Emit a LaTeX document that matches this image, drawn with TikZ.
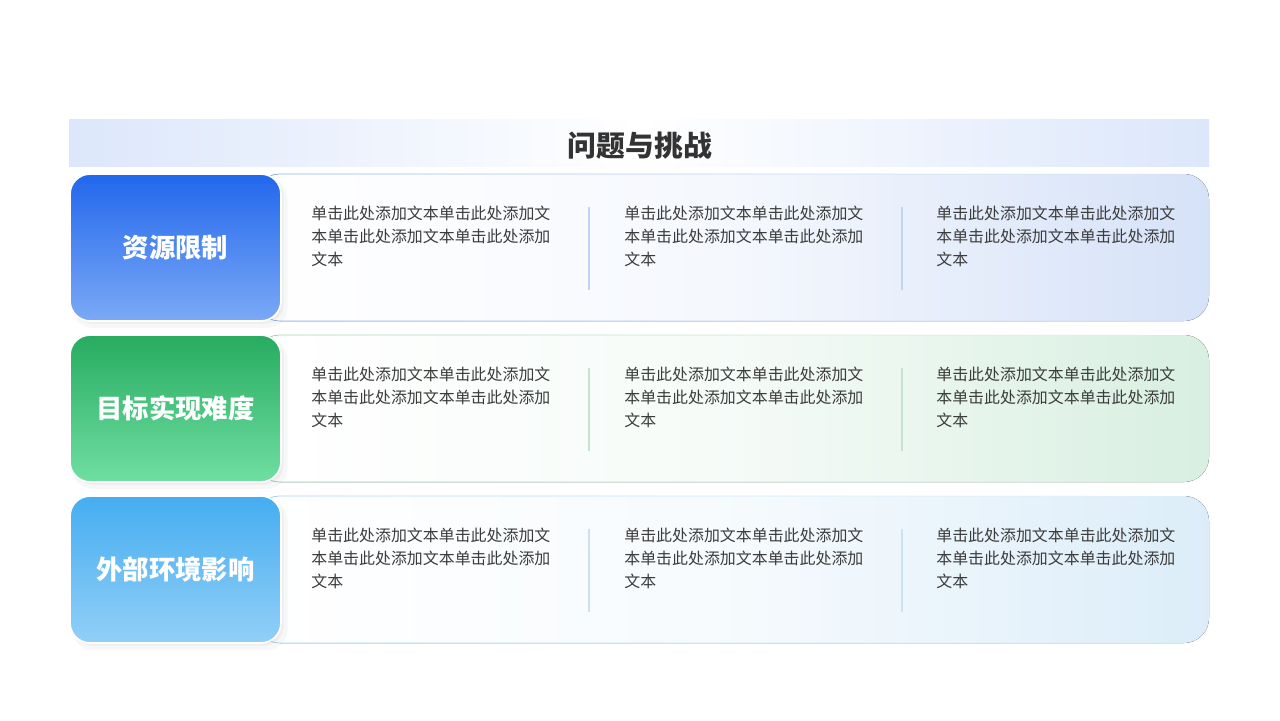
\documentclass[tikz,border=0pt]{standalone}
\usepackage{fontspec}
\setmainfont{Noto Sans CJK SC}
\usetikzlibrary{shadows,fadings}

\definecolor{bannerblue}{HTML}{DCE7FB}
\definecolor{titlegray}{HTML}{333333}
\definecolor{textgray}{HTML}{3C3C3C}
\definecolor{topA}{HTML}{2267EC}
\definecolor{botA}{HTML}{7BA9F6}
\definecolor{tintA}{HTML}{D6E2F8}
\definecolor{edgeA}{HTML}{8FB0F0}
\definecolor{divA}{HTML}{C3D4F2}
\definecolor{topB}{HTML}{27AC60}
\definecolor{botB}{HTML}{70DEA2}
\definecolor{tintB}{HTML}{D8EFE1}
\definecolor{edgeB}{HTML}{9BD6B4}
\definecolor{divB}{HTML}{C5E3D1}
\definecolor{topC}{HTML}{45ADF0}
\definecolor{botC}{HTML}{92CFF7}
\definecolor{tintC}{HTML}{DCEDF9}
\definecolor{edgeC}{HTML}{AAD3F2}
\definecolor{divC}{HTML}{CCE2F2}

\newcommand{\bodytext}{单击此处添加文本单击此处添加文\\本单击此处添加文本单击此处添加\\文本}

\begin{document}
\begin{tikzpicture}[x=0.02cm, y=-0.02cm]
  \tikzstyle{card}=[rounded corners=0.4cm, draw=white, line width=1pt,
                    minimum width=4.22cm, minimum height=2.94cm, text=white,
                    font=\fontsize{15}{18}\selectfont\bfseries,
                    drop shadow={opacity=0.06, shadow xshift=2.5pt, shadow yshift=-3pt, shadow scale=1.02},
                    drop shadow={opacity=0.08, shadow xshift=1.5pt, shadow yshift=-1.5pt}]
  \tikzstyle{body}=[anchor=north west, inner sep=0pt, align=left, text=textgray,
                    font=\fontsize{9.07}{13.04}\selectfont]
  \tikzstyle{panel}=[rounded corners=0.5cm]
  \tikzstyle{divider}=[line width=0.6pt]

  \useasboundingbox[fill=white] (0,0) rectangle (1280,720);

  % banner
  \fill[left color=bannerblue, right color=bannerblue, middle color=white]
        (69,119) rectangle (1209,166);
  \node (title) at (640,146) [font=\fontsize{16.4}{20}\selectfont\bfseries,
                              text=titlegray] {问题与挑战};

  % panels
  \fill[panel, left color=white, right color=tintA, middle color=tintA!25] (255,174) rectangle (1209,321);
  \draw[panel, draw=edgeA, path fading=east] (255,174) rectangle (1209,321);
  \fill[panel, left color=white, right color=tintB, middle color=tintB!25] (255,335) rectangle (1209,482);
  \draw[panel, draw=edgeB, path fading=east] (255,335) rectangle (1209,482);
  \fill[panel, left color=white, right color=tintC, middle color=tintC!25] (255,496) rectangle (1209,643);
  \draw[panel, draw=edgeC, path fading=east] (255,496) rectangle (1209,643);

  % cards
  \node[card, top color=topA, bottom color=botA] (r1) at (175.5,247.5) {资源限制};
  \node[card, top color=topB, bottom color=botB] (r2) at (175.5,408.5) {目标实现难度};
  \node[card, top color=topC, bottom color=botC] (r3) at (175.5,569.5) {外部环境影响};

  % dividers
  \draw[divider, draw=divA] (589,207) -- (589,290);
  \draw[divider, draw=divA] (902,207) -- (902,290);
  \draw[divider, draw=divB] (589,368) -- (589,451);
  \draw[divider, draw=divB] (902,368) -- (902,451);
  \draw[divider, draw=divC] (589,529) -- (589,612);
  \draw[divider, draw=divC] (902,529) -- (902,612);

  % texts
  \node[body] (t11) at (311,206) {\bodytext};
  \node[body] (t12) at (624,206) {\bodytext};
  \node[body] (t13) at (936,206) {\bodytext};
  \node[body] (t21) at (311,367) {\bodytext};
  \node[body] (t22) at (624,367) {\bodytext};
  \node[body] (t23) at (936,367) {\bodytext};
  \node[body] (t31) at (311,528) {\bodytext};
  \node[body] (t32) at (624,528) {\bodytext};
  \node[body] (t33) at (936,528) {\bodytext};

\end{tikzpicture}
\end{document}
